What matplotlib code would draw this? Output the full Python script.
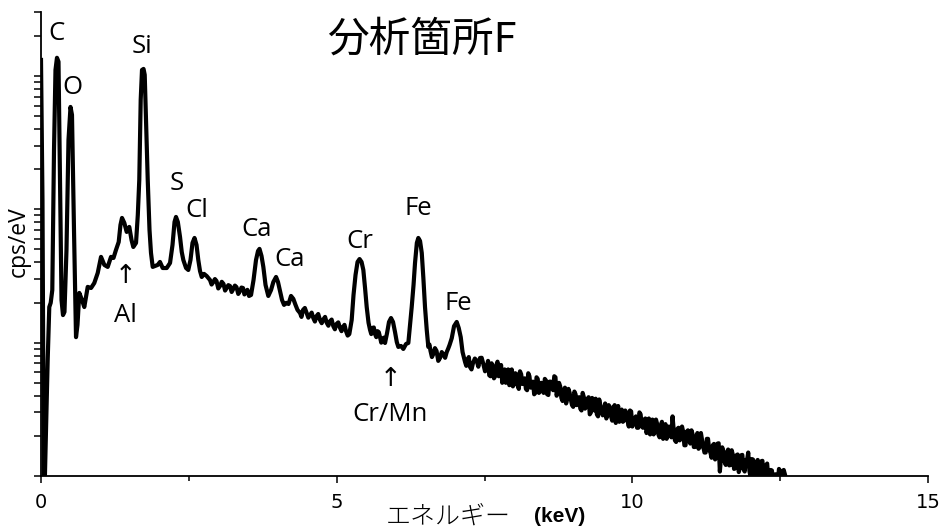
import matplotlib
matplotlib.use("Agg")
import matplotlib.pyplot as plt
from matplotlib.ticker import FixedLocator, LogLocator, NullFormatter

# spectrum (keV, cps/eV)
energy_kev = [
    0.0, 0.025, 0.05, 0.113, 0.14, 0.164, 0.191, 0.22, 0.245, 0.27,
    0.296, 0.321, 0.347, 0.372, 0.397, 0.431, 0.465, 0.499, 0.524, 0.558,
    0.592, 0.617, 0.648, 0.693, 0.732, 0.79, 0.846, 0.901, 0.959, 1.015,
    1.071, 1.128, 1.184, 1.226, 1.268, 1.314, 1.344, 1.37, 1.409, 1.449,
    1.493, 1.531, 1.561, 1.607, 1.637, 1.662, 1.686, 1.708, 1.734, 1.754,
    1.776, 1.805, 1.835, 1.86, 1.889, 1.974, 2.012, 2.058, 2.126, 2.182,
    2.224, 2.258, 2.283, 2.314, 2.351, 2.38, 2.407, 2.453, 2.491, 2.528,
    2.562, 2.596, 2.63, 2.66, 2.689, 2.718, 2.757, 2.802, 2.858, 2.914,
    2.968, 3.027, 3.086, 3.14, 3.196, 3.252, 3.306, 3.365, 3.416, 3.467,
    3.518, 3.552, 3.594, 3.636, 3.67, 3.695, 3.729, 3.76, 3.797, 3.844,
    3.89, 3.929, 3.975, 4.008, 4.042, 4.076, 4.11, 4.149, 4.186, 4.228,
    4.267, 4.304, 4.338, 4.38, 4.431, 4.493, 4.549, 4.605, 4.659, 4.718,
    4.777, 4.832, 4.888, 4.943, 4.997, 5.057, 5.107, 5.158, 5.214, 5.254,
    5.285, 5.319, 5.353, 5.387, 5.421, 5.451, 5.48, 5.508, 5.539, 5.564,
    5.606, 5.649, 5.691, 5.733, 5.775, 5.818, 5.852, 5.885, 5.919, 5.953,
    5.987, 6.017, 6.043, 6.088, 6.127, 6.173, 6.212, 6.241, 6.269, 6.3,
    6.325, 6.356, 6.381, 6.41, 6.439, 6.466, 6.494, 6.523, 6.55, 6.587,
    6.635, 6.689, 6.748, 6.807, 6.861, 6.909, 6.946, 6.985, 7.03, 7.064,
    7.098, 7.129, 7.171, 7.213, 7.255, 7.306, 7.369, 7.424, 7.48, 7.538,
]
cps_per_ev = [
    1320, 117, 0.5, 7.4, 18.5, 19.9, 24.8, 279, 1110, 1370,
    1280, 166, 20.9, 16.1, 17.0, 49.6, 332, 586, 511, 70.0,
    11.0, 13.6, 23.6, 20.9, 18.5, 26.2, 25.7, 28.0, 33.3, 44.0,
    38.3, 37.0, 44.0, 43.2, 49.6, 56.9, 76.4, 86.2, 79.1, 67.7,
    73.8, 58.9, 52.2, 56.0, 90.8, 166, 662, 1110, 1130, 1020,
    469, 166, 70.0, 47.1, 37.0, 38.3, 40.3, 36.3, 36.3, 39.6,
    54.1, 80.4, 87.7, 80.4, 62.1, 47.9, 41.7, 36.3, 35.1, 41.7,
    56.0, 61.0, 54.1, 41.7, 34.5, 31.1, 32.8, 31.6, 29.5, 28.5,
    29.0, 26.6, 27.6, 25.7, 26.6, 25.3, 26.1, 24.4, 25.7, 24.0,
    22.4, 22.8, 29.5, 41.7, 48.7, 50.5, 44.7, 37.0, 27.1, 22.4,
    24.8, 28.5, 31.1, 28.5, 24.4, 20.9, 19.2, 19.9, 19.5, 22.4,
    21.3, 19.2, 17.6, 16.7, 17.6, 16.7, 16.1, 15.3, 15.8, 14.8,
    15.0, 14.1, 14.5, 13.3, 13.8, 12.9, 13.1, 12.2, 11.6, 14.8,
    22.8, 32.2, 40.3, 42.4, 40.3, 35.1, 25.7, 18.5, 14.1, 12.5,
    12.9, 11.6, 12.2, 11.0, 10.7, 9.95, 11.8, 14.3, 15.3, 14.3,
    12.0, 10.1, 9.29, 9.45, 8.97, 9.78, 9.95, 13.6, 18.5, 27.1,
    39.6, 56.0, 61.0, 57.9, 47.1, 30.6, 18.5, 12.5, 9.29, 8.67,
    8.23, 8.67, 7.68, 8.1, 8.5, 9.6, 10.8, 13.3, 14.3, 12.9,
    11.0, 8.5, 7.17, 7.4, 6.57, 7.05, 7.3, 7.68, 6.92, 6.35,
]

# extra noisy channels in the mid range
extra_kev = [
    2.885, 2.941, 2.998, 3.057, 3.113, 3.168, 3.224, 3.279, 3.336, 3.39, 3.44, 3.49,
    4.405, 4.462, 4.521, 4.577, 4.632, 4.688, 4.747, 4.804, 4.86, 4.915, 4.97,
    5.027, 5.082, 5.132, 5.186,
    5.585, 5.628, 5.67, 5.712, 5.754, 5.797,
    6.568, 6.611, 6.662, 6.718, 6.777, 6.834, 6.885,
    7.192, 7.234, 7.28, 7.337, 7.396, 7.452, 7.509, 7.549,
]
extra_cps = [
    27.3, 30.0, 25.5, 28.6, 24.6, 27.0, 24.0, 26.8, 23.2, 25.9, 23.0, 24.9,
    15.6, 18.2, 15.4, 16.8, 14.4, 16.4, 14.0, 15.6, 13.4, 14.9, 12.6,
    14.2, 12.2, 13.6, 11.3,
    11.6, 13.0, 11.0, 12.0, 10.0, 10.9,
    9.7, 7.8, 9.1, 7.3, 8.5, 7.7, 9.0,
    6.7, 7.8, 6.3, 7.6, 6.6, 7.7, 6.1, 6.9,
]

# noisy high-energy tail
tail_kev = [
    7.56, 7.60, 7.64, 7.68, 7.72, 7.76, 7.80, 7.84, 7.88, 7.92,
    7.96, 8.00, 8.04, 8.08, 8.12, 8.16, 8.20, 8.24, 8.28, 8.32,
    8.36, 8.40, 8.44, 8.48, 8.52, 8.56, 8.60, 8.64, 8.68, 8.72,
    8.76, 8.80, 8.84, 8.88, 8.92, 8.96, 9.00, 9.04, 9.08, 9.12,
    9.16, 9.20, 9.24, 9.28, 9.32, 9.36, 9.40, 9.44, 9.48, 9.52,
    9.56, 9.60, 9.64, 9.68, 9.72, 9.76, 9.80, 9.84, 9.88, 9.92,
    9.96, 10.00, 10.04, 10.08, 10.12, 10.16, 10.20, 10.24, 10.28, 10.32,
    10.36, 10.40, 10.44, 10.48, 10.52, 10.56, 10.60, 10.64, 10.68, 10.72,
    10.76, 10.80, 10.84, 10.88, 10.92, 10.96, 11.00, 11.04, 11.08, 11.12,
    11.16, 11.20, 11.24, 11.28, 11.32, 11.36, 11.40, 11.44, 11.48, 11.52,
    11.56, 11.60, 11.64, 11.68, 11.72, 11.76, 11.80, 11.84, 11.88, 11.92,
    11.96, 12.00, 12.04, 12.08, 12.12, 12.16, 12.20, 12.24, 12.28, 12.32,
    12.36, 12.40, 12.44, 12.48, 12.52, 12.56, 12.60,
]
tail_cps = [
    7.3, 5.6, 6.6, 5.6, 7.2, 5.7, 5.0, 6.3, 5.8, 4.8,
    6.3, 4.9, 5.8, 4.5, 5.8, 5.0, 4.5, 5.9, 4.6, 5.1,
    4.2, 5.35, 4.3, 4.6, 5.35, 4.1, 5.1, 4.6, 5.6, 4.0,
    5.0, 3.85, 4.4, 3.5, 4.5, 3.75, 3.3, 4.1, 3.65, 3.2,
    4.2, 3.2, 3.75, 2.9, 3.85, 3.1, 2.9, 3.75, 3.0, 3.2,
    2.7, 3.4, 2.8, 3.2, 2.5, 3.35, 2.8, 2.55, 3.1, 2.6,
    3.1, 2.35, 2.7, 2.3, 3.0, 2.35, 2.65, 2.1, 2.7, 2.3,
    2.05, 2.65, 2.05, 2.35, 1.9, 2.45, 2.05, 2.25, 2.8, 1.85,
    2.25, 1.85, 2.35, 1.7, 2.15, 1.85, 2.2, 1.65, 1.95, 1.6,
    2.1, 1.65, 1.5, 1.9, 1.5, 1.7, 1.33, 1.75, 1.08, 1.64,
    1.28, 1.5, 1.2, 1.56, 1.13, 1.43, 1.07, 1.43, 1.13, 1.32,
    1.5, 0.98, 1.33, 1.02, 1.32, 1.04, 1.3, 0.96, 1.24, 0.91,
    1.1, 0.88, 0.92, 1.13, 0.96, 1.11, 0.94,
]
tail_mid_kev = [
    7.58, 7.62, 7.66, 7.70, 7.74, 7.78, 7.82, 7.86, 7.90, 7.94,
    7.98, 8.02, 8.06, 8.10, 8.14, 8.18, 8.22, 8.26, 8.30, 8.34,
    8.38, 8.42, 8.46, 8.50, 8.54, 8.58, 8.62, 8.66, 8.70, 8.74,
    8.78, 8.82, 8.86, 8.90, 8.94, 8.98, 9.02, 9.06, 9.10, 9.14,
    9.18, 9.22, 9.26, 9.30, 9.34, 9.38, 9.42, 9.46, 9.50, 9.54,
    9.58, 9.62, 9.66, 9.70, 9.74, 9.78, 9.82, 9.86, 9.90, 9.94,
    9.98, 10.02, 10.06, 10.10, 10.14, 10.18, 10.22, 10.26, 10.30, 10.34,
    10.38, 10.42, 10.46, 10.50, 10.54, 10.58, 10.62, 10.66, 10.70, 10.74,
    10.78, 10.82, 10.86, 10.90, 10.94, 10.98, 11.02, 11.06, 11.10, 11.14,
    11.18, 11.22, 11.26, 11.30, 11.34, 11.38, 11.42, 11.46, 11.50, 11.54,
    11.58, 11.62, 11.66, 11.70, 11.74, 11.78, 11.82, 11.86, 11.90, 11.94,
    11.98, 12.02, 12.06, 12.10, 12.14, 12.18, 12.22, 12.26, 12.30, 12.34,
    12.38, 12.42, 12.46, 12.50, 12.54, 12.58,
]
tail_mid_cps = [
    5.7, 7.0, 5.4, 6.8, 5.6, 6.8, 5.8, 5.0, 6.3, 5.2,
    4.7, 5.9, 4.8, 6.1, 4.9, 5.4, 4.4, 5.6, 4.7, 4.1,
    5.5, 4.2, 5.0, 4.2, 5.2, 4.05, 5.1, 4.4, 5.5, 4.3,
    4.7, 3.65, 4.6, 3.8, 4.2, 3.4, 4.3, 3.4, 3.9, 3.1,
    3.9, 3.3, 3.9, 3.0, 3.4, 3.8, 2.8, 3.35, 2.85, 3.5,
    2.9, 3.3, 2.6, 3.4, 2.8, 2.55, 3.15, 2.6, 2.95, 2.35,
    3.05, 2.55, 2.8, 2.3, 2.9, 2.3, 2.7, 2.3, 2.05, 2.65,
    2.15, 2.45, 1.95, 2.55, 2.1, 1.9, 2.35, 1.95, 2.2, 1.8,
    2.3, 1.9, 2.15, 1.7, 2.2, 1.75, 2.05, 1.65, 2.1, 1.65,
    1.85, 1.5, 1.9, 1.57, 1.37, 1.74, 1.4, 1.76, 1.38, 1.53,
    1.21, 1.58, 1.21, 1.44, 1.14, 1.45, 1.16, 1.44, 1.08, 1.31,
    1.09, 1.34, 1.01, 1.27, 1.0, 1.29, 0.93, 1.2, 0.95, 1.11,
    0.92, 1.03, 0.92, 1.09, 0.91, 1.03,
]

xticks = [0, 5, 10, 15]
xminor = [2.5, 7.5, 12.5]

# peak labels (text, keV, cps/eV)
labels = ["C", "O", "Si", "S", "Cl", "↑", "Al", "Ca", "Ca", "Cr", "Fe", "Fe", "↑", "Cr/Mn"]
label_x = [0.27, 0.524, 1.708, 2.30, 2.638, 1.437, 1.42, 3.653, 4.211, 5.395, 6.376, 7.052, 5.919, 5.902]
label_y = [2070, 814, 1652, 155, 97.3, 31.1, 15.9, 70, 41.7, 56.9, 102, 19.5, 5.25, 2.87]

points = sorted(zip(energy_kev + extra_kev + tail_kev + tail_mid_kev,
                    cps_per_ev + extra_cps + tail_cps + tail_mid_cps))
xs = [p[0] for p in points]
ys = [p[1] for p in points]

fig = plt.figure(figsize=(9.43, 5.29), dpi=100)
ax = fig.add_axes([41 / 943, 1 - 476 / 529, 887 / 943, 464 / 529])

ax.plot(xs, ys, color="black", lw=3.0, solid_joinstyle="round")

ax.set_yscale("log")
ax.set_xlim(0, 15)
ax.set_ylim(1, 3020)
ax.spines["top"].set_visible(False)
ax.spines["right"].set_visible(False)
for s in ("left", "bottom"):
    ax.spines[s].set_linewidth(1.3)

ax.xaxis.set_major_locator(FixedLocator(xticks))
ax.xaxis.set_minor_locator(FixedLocator(xminor))
ax.set_xticklabels([str(t) for t in xticks])
ax.yaxis.set_major_locator(LogLocator(base=10))
ax.yaxis.set_minor_locator(LogLocator(base=10, subs=range(2, 10)))
ax.yaxis.set_major_formatter(NullFormatter())
ax.yaxis.set_minor_formatter(NullFormatter())
ax.tick_params(axis="x", which="major", direction="out", length=5, width=1.1, pad=7)
ax.tick_params(axis="x", which="minor", direction="out", length=3.5, width=1.1)
ax.tick_params(axis="y", which="both", direction="out", length=5, width=1.1)
for lab in ax.get_xticklabels():
    lab.set_fontfamily(["Liberation Sans Narrow", "DejaVu Sans"])
    lab.set_fontsize(14)

for t, x, y in zip(labels, label_x, label_y):
    ax.text(x, y, t, ha="center", va="center", fontsize=18.5,
            family=["Open Sans", "DejaVu Sans"])

fig.text(19 / 943, 1 - 242 / 529, "cps/eV", rotation=90, ha="center", va="center",
         fontsize=16.5, family=["Open Sans", "DejaVu Sans"])
fig.text(422 / 943, 1 - 40 / 529, "分析箇所F", ha="center", va="center",
         fontsize=30, family=["Noto Sans CJK JP", "DejaVu Sans"])
fig.text(448 / 943, 1 - 516 / 529, "エネルギー", ha="center", va="center",
         fontsize=18, fontweight="light", family=["Noto Sans CJK JP", "DejaVu Sans"])
fig.text(560 / 943, 1 - 516 / 529, "(keV)", ha="center", va="center",
         fontsize=15, fontweight="bold", family=["Liberation Sans Narrow", "Liberation Sans", "DejaVu Sans"])

fig.savefig("out.png", dpi=100)
